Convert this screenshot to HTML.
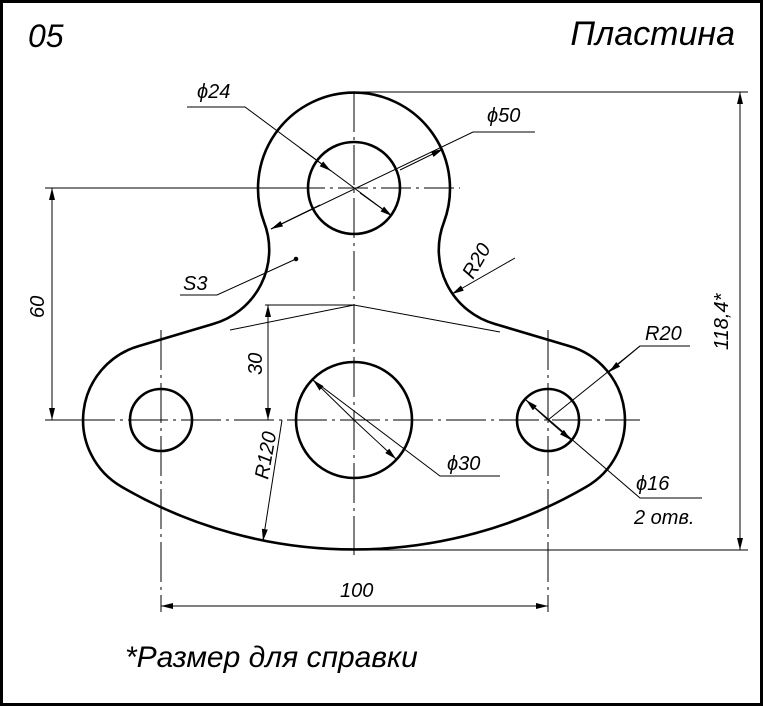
<!DOCTYPE html>
<html><head><meta charset="utf-8"><style>
body{margin:0;background:#fff}
svg{display:block}
text{font-family:"Liberation Sans",sans-serif;font-style:italic;fill:#000}
</style></head><body>
<svg width="763" height="706" viewBox="0 0 763 706" xmlns="http://www.w3.org/2000/svg">
<defs>
<marker id="a" viewBox="0 0 12 6" refX="12" refY="3" markerWidth="12" markerHeight="6" orient="auto-start-reverse" markerUnits="userSpaceOnUse"><path d="M0,0 L12,3 L0,6 Z" fill="#000"/></marker>
</defs>
<rect x="1.5" y="1.5" width="760" height="703" fill="none" stroke="#000" stroke-width="3"/>
<text x="28" y="47" font-size="32">05</text>
<text x="735" y="45" font-size="34" text-anchor="end">Пластина</text>
<text x="125" y="667" font-size="30">*Размер для справки</text>

<!-- outline -->
<path d="M264,222 A96,96 0 1 1 444,222 A77,77 0 0 0 495,324 L569,346 A77,77 0 0 1 586,487 A462,462 0 0 1 122,487 A77,77 0 0 1 139,346 L213,324 A77,77 0 0 0 264,222 Z" fill="none" stroke="#000" stroke-width="2.6"/>
<g fill="none" stroke="#000" stroke-width="2.6">
<circle cx="354" cy="188" r="46"/>
<circle cx="354" cy="420" r="58"/>
<circle cx="161" cy="420" r="31"/>
<circle cx="548" cy="420" r="31"/>
</g>

<!-- center lines -->
<g stroke="#000" stroke-width="1" fill="none">
<line x1="354" y1="92" x2="354" y2="555" stroke-dasharray="40,5,3,5"/>
<line x1="295" y1="188" x2="460" y2="188" stroke-dasharray="30,5,3,5"/>
<line x1="75" y1="420" x2="640" y2="420" stroke-dasharray="40,5,3,5"/>
<line x1="161" y1="330" x2="161" y2="612" stroke-dasharray="40,5,3,5"/>
<line x1="548" y1="330" x2="548" y2="612" stroke-dasharray="40,5,3,5"/>
</g>

<!-- thin lines -->
<g stroke="#000" stroke-width="1" fill="none">
<line x1="45" y1="188" x2="300" y2="188"/>
<line x1="45" y1="420" x2="80" y2="420"/>
<line x1="354" y1="92" x2="748" y2="92"/>
<line x1="354" y1="550" x2="748" y2="550"/>
<line x1="265" y1="305" x2="354" y2="305"/>
<polyline points="230,330 354,305 500,332"/>
<line x1="52" y1="188" x2="52" y2="420" marker-start="url(#a)" marker-end="url(#a)"/>
<line x1="268" y1="305" x2="268" y2="420" marker-start="url(#a)" marker-end="url(#a)"/>
<line x1="740" y1="92" x2="740" y2="550" marker-start="url(#a)" marker-end="url(#a)"/>
<line x1="161" y1="606" x2="548" y2="606" marker-start="url(#a)" marker-end="url(#a)"/>
<!-- Ø24 -->
<polyline points="187,107 245,107 392,216"/>
<line x1="300" y1="148" x2="331" y2="171" marker-end="url(#a)"/>
<line x1="360" y1="193" x2="392" y2="216" marker-end="url(#a)"/>
<!-- Ø50 -->
<polyline points="535,132 473,132 271,229"/>
<line x1="400" y1="170" x2="443" y2="149" marker-end="url(#a)"/>
<line x1="320" y1="205" x2="271" y2="229" marker-end="url(#a)"/>
<!-- R20 neck -->
<line x1="515" y1="258" x2="452" y2="294" marker-end="url(#a)"/>
<!-- S3 -->
<polyline points="180,295 217,295 296,259"/>
<circle cx="296" cy="259" r="1.8" fill="#000"/>
<!-- R20 lobe -->
<polyline points="690,346 640,346 548,420"/>
<line x1="640" y1="346" x2="609" y2="372" marker-end="url(#a)"/>
<!-- Ø16 -->
<polyline points="702,498 640,498 526,400"/>
<line x1="548" y1="420" x2="526" y2="400" marker-end="url(#a)"/>
<line x1="548" y1="420" x2="571" y2="440" marker-end="url(#a)"/>
<!-- Ø30 -->
<polyline points="500,476 440,476 313,380"/>
<line x1="354" y1="420" x2="313" y2="380" marker-end="url(#a)"/>
<line x1="354" y1="420" x2="396" y2="459" marker-end="url(#a)"/>
<!-- R120 -->
<line x1="282" y1="420" x2="263" y2="541" marker-end="url(#a)"/>
</g>

<g font-size="20">
<text x="197" y="98">ϕ24</text>
<text x="487" y="122">ϕ50</text>
<text x="183" y="290">S3</text>
<text x="645" y="340">R20</text>
<text x="447" y="470">ϕ30</text>
<text x="636" y="490">ϕ16</text>
<text x="634" y="524">2 отв.</text>
<text x="340" y="597">100</text>
<text transform="translate(473,280) rotate(-60)">R20</text>
<text transform="translate(44,318) rotate(-90)">60</text>
<text transform="translate(262,375) rotate(-90)">30</text>
<text transform="translate(728,350) rotate(-90)">118,4*</text>
<text transform="translate(268,480) rotate(-80)">R120</text>
</g>
</svg>
</body></html>
